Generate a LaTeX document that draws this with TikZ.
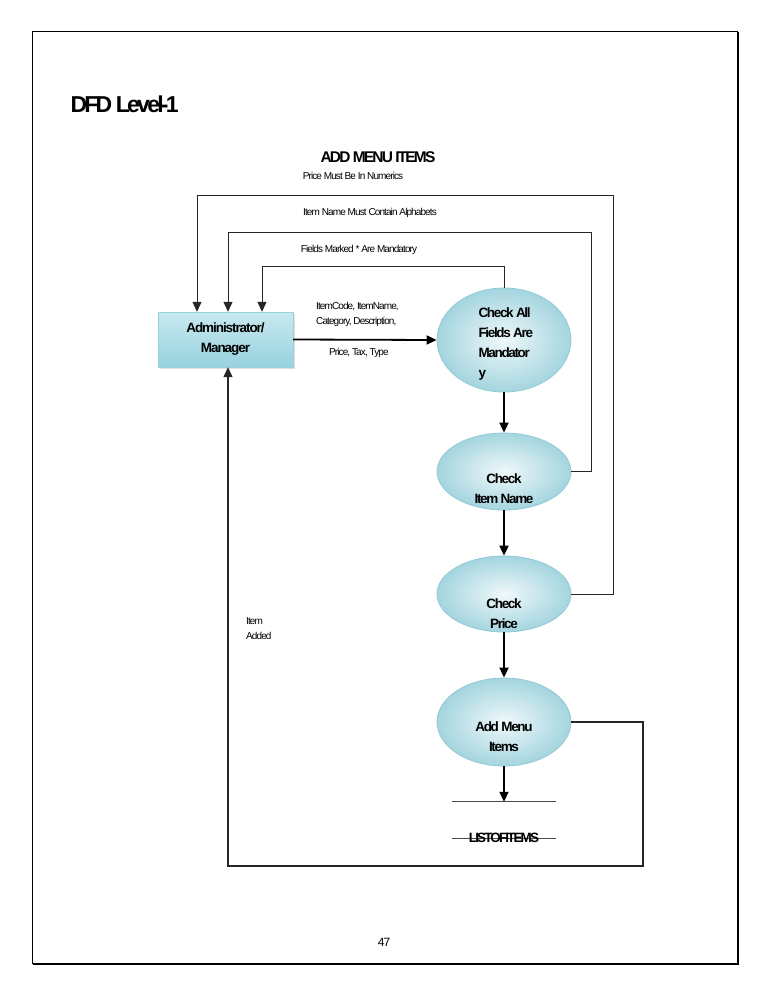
\documentclass[tikz,border=0pt]{standalone}
\usepackage{fontspec}
\setmainfont{Liberation Sans}[LetterSpace=-5]
\usetikzlibrary{arrows.meta,shadows,shapes.geometric}

\definecolor{procfill}{HTML}{D6EEF3}
\definecolor{procedge}{HTML}{8FCAD6}
\definecolor{boxdark}{HTML}{98D2DE}
\definecolor{boxlight}{HTML}{C8E9F0}

\newcommand{\tight}[1]{\addfontfeatures{LetterSpace=#1}}

\begin{document}
\begin{tikzpicture}[x=1pt,y=-1pt,
    process/.style={ellipse,minimum width=134pt,inner sep=0pt,draw=procedge,line width=0.8pt,inner color=white!60!procfill,outer color=procedge!70!procfill},
    ptext/.style={font=\bfseries\fontsize{13.5}{20}\selectfont\tight{-10},align=center},
    entity/.style={rectangle,minimum width=135pt,minimum height=55pt,inner sep=0pt,top color=boxlight,bottom color=boxdark,draw=boxdark,drop shadow={shadow xshift=1.5pt,shadow yshift=-1.5pt,opacity=0.25}},
    note/.style={font=\fontsize{10}{15}\selectfont\tight{-9},inner sep=0pt},
    flow/.style={-{Triangle[length=10pt,width=9pt]},line width=1.8pt},
    fback/.style={-{Triangle[length=10pt,width=9pt]},line width=1pt,draw=black!85}]
    \useasboundingbox (0,0) rectangle (768,994);

    % page frame
    \draw[line width=0.8pt] (32,31) rectangle (737,963);
    \draw[line width=2.4pt] (33,964) -- (738,964) -- (738,32);

    \node[font=\bfseries\fontsize{23}{26}\selectfont\tight{-12},anchor=west] (title) at (67,104) {DFD Level-1};
    \node[font=\bfseries\fontsize{15.5}{18}\selectfont\tight{-12}] (heading) at (378,157) {ADD MENU ITEMS};
    \node[note] (msg1) at (353,176) {Price Must Be In Numerics};
    \node[note] (msg2) at (370,213) {Item Name Must Contain Alphabets};
    \node[note] (msg3) at (359,250) {Fields Marked * Are Mandatory};

    \node[entity,font=\bfseries\fontsize{13.5}{20}\selectfont\tight{-8},align=center] (admin) at (225.5,339.5) {Administrator/\\Manager};

    \node[process,minimum height=104pt] (chk1) at (504,340) {};
    \node[ptext,align=left,anchor=north west] (chk1t) at (475,304) {Check All\\Fields Are\\Mandator\\y};
    \node[process,minimum height=77pt,label={[ptext,yshift=-17pt]center:Check\\Item Name}] (chk2) at (504,471.5) {};
    \node[process,minimum height=76pt,label={[ptext,yshift=-20pt]center:Check\\Price}] (chk3) at (504,594) {};
    \node[process,minimum height=88pt,label={[ptext,yshift=-15pt]center:Add Menu\\Items}] (addm) at (504,722) {};

    \node[minimum width=104pt,minimum height=36pt,inner sep=0pt] (store) at (504,820) {};
    \draw[line width=0.8pt,black!70] (store.north west) -- (store.north east);
    \draw[line width=0.8pt,black!70] (store.south west) -- (store.south east);
    \node[font=\bfseries\fontsize{13.5}{14}\selectfont\tight{-14}] (storet) at (store.south) {LISTOFITEMS};

    \node[note,align=left,anchor=west] (data1) at (316,314) {ItemCode, ItemName,\\Category, Description,};
    \node[note,anchor=west] (data2) at (329,353) {Price, Tax, Type};
    \node[note,align=left,anchor=west] (added) at (246,629) {Item\\Added};

    \coordinate (inA) at (197,0);
    \coordinate (inB) at (228,0);
    \coordinate (inC) at (262,0);

    \draw[flow] (admin.east) -- (chk1.west);
    \draw[flow] (chk1.south) -- (chk2.north);
    \draw[flow] (chk2.south) -- (chk3.north);
    \draw[flow] (chk3.south) -- (addm.north);
    \draw[flow] (addm.south) -- (store.north);

    \draw[fback] (chk1.north) -- ++(0,-21) -| (admin.north -| inC);
    \draw[fback] (chk2.east) -| (591,232) -| (admin.north -| inB);
    \draw[fback] (chk3.east) -| (613,195) -| (admin.north -| inA);
    \draw[fback,line width=1.3pt] (addm.east) -| (643,866) -| (admin.south -| inB);

    \node[font=\fontsize{12}{13}\selectfont\tight{-8}] (page) at (384,942) {47};
\end{tikzpicture}
\end{document}
